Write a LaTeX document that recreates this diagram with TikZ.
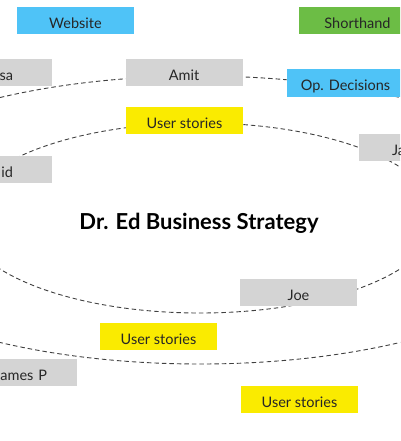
\documentclass[tikz,border=0pt]{standalone}
\usepackage{fontspec}
\setmainfont{Lato}
\definecolor{skyblue}{HTML}{4FC3F7}
\definecolor{leafgreen}{HTML}{6CBD45}
\definecolor{storyyellow}{HTML}{FAEB00}
\definecolor{namegray}{HTML}{D4D4D4}
\begin{document}
\begin{tikzpicture}[x=1pt,y=-1pt,
  box/.style={rectangle,minimum width=117pt,minimum height=27pt,inner sep=0pt,
    text height=16pt,text depth=0pt,text=black!85,font=\fontsize{14.5}{17}\selectfont},
  person/.style={box,fill=namegray},
  story/.style={box,fill=storyyellow},
  topic/.style={box,fill=skyblue},
  orbit/.style={draw=black!75,line width=0.9pt,dash pattern=on 4.5pt off 3pt}]
\useasboundingbox (0,0) rectangle (400,441);
\clip (0,0) rectangle (400,441);
% the two rings
\path[orbit] (200,220) ellipse [x radius=380pt,y radius=144pt];
\path[orbit] (200,218) ellipse [x radius=237pt,y radius=95pt];
% boxes on top
\node[topic] (website) at (75.5,20.5) {Website};
\node[box,fill=leafgreen] (shorthand) at (357.5,20.5) {Shorthand};
\node[person,text width=39pt,align=right] (sa) at (-6.5,73) {sa};
\node[person] (amit) at (184,72.5) {Amit};
\node[topic,minimum height=28pt] (opdec) at (345.5,83) {Op. Decisions};
\node[story] (stories1) at (184.5,120.5) {User stories};
\node[person,text width=51pt,align=left] (ja) at (417.5,147.5) {Ja};
\node[person,text width=39pt,align=right] (id) at (-6.5,169.5) {id};
\node[person] (joe) at (298.5,292) {Joe};
\node[story] (stories2) at (158.5,336.5) {User stories};
\node[person,text width=57pt,align=right] (jamesp) at (18.5,372) {James P};
\node[story] (stories3) at (299.5,399.5) {User stories};
\node[anchor=base,inner sep=0pt,font=\fontsize{22}{26}\selectfont\bfseries] (title) at (199,229) {Dr. Ed Business Strategy};
\end{tikzpicture}
\end{document}
